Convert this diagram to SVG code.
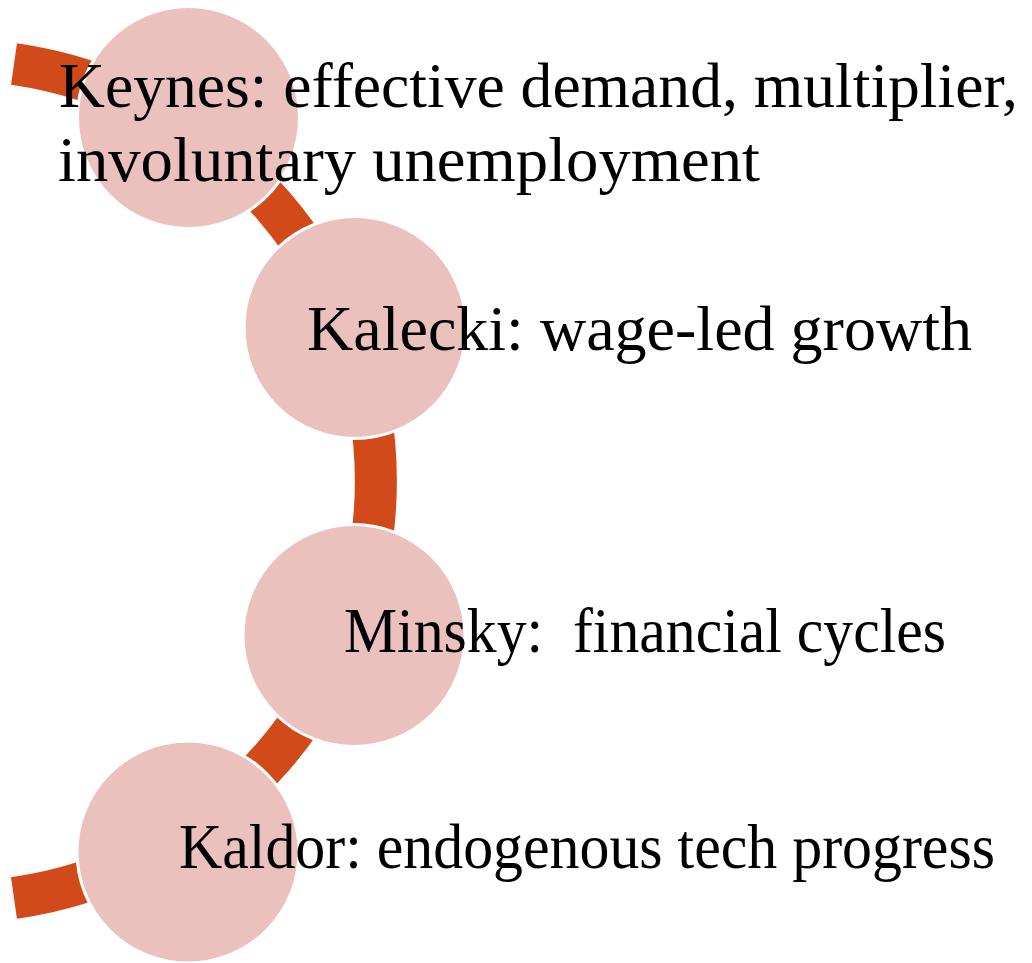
<svg xmlns="http://www.w3.org/2000/svg" width="1032" height="963" viewBox="0 0 1032 963">
  <style>
    .arc { fill: none; stroke: #D24A19; stroke-width: 42; stroke-linecap: butt; }
    .node circle { fill: #EAC1BC; stroke: #FFFFFF; stroke-width: 3; }
    .node text { font-family: "Liberation Serif", "Times New Roman", serif; font-size: 63px; fill: #000000; }
  </style>
  <rect width="1032" height="963" fill="#FFFFFF"/>
  <g id="connectors">
    <path class="arc" d="M 14 64 A 421.2 421.2 0 0 1 14 898"/>
  </g>
  <g id="node-keynes" class="node">
    <circle cx="188.5" cy="117.5" r="111"/>
    <text x="59" y="107" textLength="959" lengthAdjust="spacingAndGlyphs">Keynes: effective demand, multiplier,</text>
    <text x="58" y="181" textLength="702" lengthAdjust="spacingAndGlyphs">involuntary unemployment</text>
  </g>
  <g id="node-kalecki" class="node">
    <circle cx="355" cy="327.5" r="111"/>
    <text x="307" y="350" textLength="665" lengthAdjust="spacingAndGlyphs">Kalecki: wage-led growth</text>
  </g>
  <g id="node-minsky" class="node">
    <circle cx="354" cy="635.5" r="111"/>
    <text x="344" y="652" textLength="602" lengthAdjust="spacingAndGlyphs" xml:space="preserve">Minsky:  financial cycles</text>
  </g>
  <g id="node-kaldor" class="node">
    <circle cx="188" cy="852" r="111"/>
    <text x="179" y="868" textLength="816" lengthAdjust="spacingAndGlyphs">Kaldor: endogenous tech progress</text>
  </g>
</svg>
